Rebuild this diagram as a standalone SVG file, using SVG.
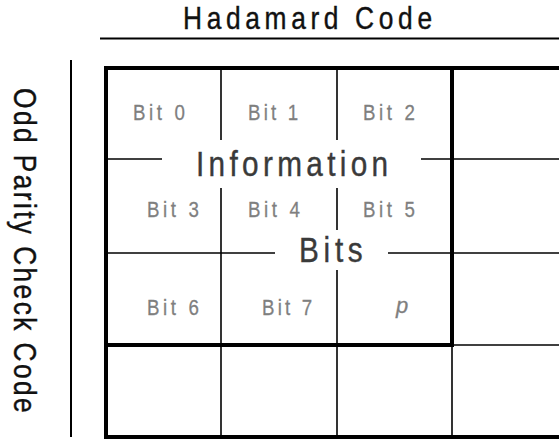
<svg xmlns="http://www.w3.org/2000/svg" width="559" height="439" viewBox="0 0 559 439">
  <style>
    .thin { stroke: #000; stroke-width: 1.6; fill: none; }
    .thick { stroke: #000; stroke-width: 4; fill: none; }
    .bit { font-family: "Liberation Sans", Arial, sans-serif; font-size: 22px; fill: #7f7f7f; stroke: #7f7f7f; stroke-width: 0.3; }
    .big { font-family: "Liberation Sans", Arial, sans-serif; fill: #3a3a3a; stroke: #3a3a3a; stroke-width: 0.4; }
    .head { font-family: "Liberation Sans", Arial, sans-serif; fill: #111; stroke: #111; stroke-width: 0.4; }
  </style>
  <rect width="559" height="439" fill="#fff"/>

  <g id="title">
    <text class="head" transform="translate(183,29) scale(0.85,1)" font-size="31" textLength="293" lengthAdjust="spacing">Hadamard Code</text>
    <line x1="100" y1="38.5" x2="559" y2="38.5" stroke="#000" stroke-width="2"/>
  </g>

  <g id="side-label">
    <line x1="71" y1="60" x2="71" y2="437" stroke="#000" stroke-width="2"/>
    <text class="head" transform="translate(14,88) rotate(90) scale(0.85,1)" font-size="31" textLength="382" lengthAdjust="spacing">Odd Parity Check Code</text>
  </g>

  <g id="grid">
    <line class="thin" x1="106" y1="159" x2="162" y2="159"/>
    <line class="thin" x1="421" y1="159" x2="559" y2="159"/>
    <line class="thin" x1="106" y1="253" x2="275" y2="253"/>
    <line class="thin" x1="388" y1="253" x2="559" y2="253"/>
    <line class="thin" x1="452" y1="345" x2="559" y2="345"/>
    <line class="thin" x1="221" y1="68" x2="221" y2="140"/>
    <line class="thin" x1="221" y1="188" x2="221" y2="437"/>
    <line class="thin" x1="337" y1="68" x2="337" y2="140"/>
    <line class="thin" x1="337" y1="188" x2="337" y2="230"/>
    <line class="thin" x1="337" y1="270" x2="337" y2="437"/>
    <line class="thin" x1="452" y1="345" x2="452" y2="437"/>
    <line class="thick" x1="104" y1="68" x2="559" y2="68"/>
    <line class="thick" x1="106" y1="66" x2="106" y2="439"/>
    <line class="thick" x1="104" y1="437" x2="559" y2="437"/>
    <line class="thick" x1="104" y1="345" x2="454" y2="345"/>
    <line class="thick" x1="452" y1="66" x2="452" y2="347"/>
  </g>

  <g id="info-label">
    <text class="big" transform="translate(196,176) scale(0.85,1)" font-size="35" textLength="226" lengthAdjust="spacing">Information</text>
  </g>
  <g id="bits-label">
    <text class="big" transform="translate(299,262) scale(0.85,1)" font-size="35" textLength="75" lengthAdjust="spacing">Bits</text>
  </g>

  <g id="bit0"><text class="bit" transform="translate(133,120) scale(0.85,1)" textLength="61" lengthAdjust="spacing">Bit 0</text></g>
  <g id="bit1"><text class="bit" transform="translate(248,120) scale(0.85,1)" textLength="59" lengthAdjust="spacing">Bit 1</text></g>
  <g id="bit2"><text class="bit" transform="translate(363,120) scale(0.85,1)" textLength="61" lengthAdjust="spacing">Bit 2</text></g>
  <g id="bit3"><text class="bit" transform="translate(147,217) scale(0.85,1)" textLength="61" lengthAdjust="spacing">Bit 3</text></g>
  <g id="bit4"><text class="bit" transform="translate(248,217) scale(0.85,1)" textLength="61" lengthAdjust="spacing">Bit 4</text></g>
  <g id="bit5"><text class="bit" transform="translate(363,217) scale(0.85,1)" textLength="61" lengthAdjust="spacing">Bit 5</text></g>
  <g id="bit6"><text class="bit" transform="translate(147,315) scale(0.85,1)" textLength="61" lengthAdjust="spacing">Bit 6</text></g>
  <g id="bit7"><text class="bit" transform="translate(262,315) scale(0.85,1)" textLength="59" lengthAdjust="spacing">Bit 7</text></g>
  <g id="parity"><text class="bit" x="396" y="313" font-style="italic" stroke-width="0">p</text></g>
</svg>
